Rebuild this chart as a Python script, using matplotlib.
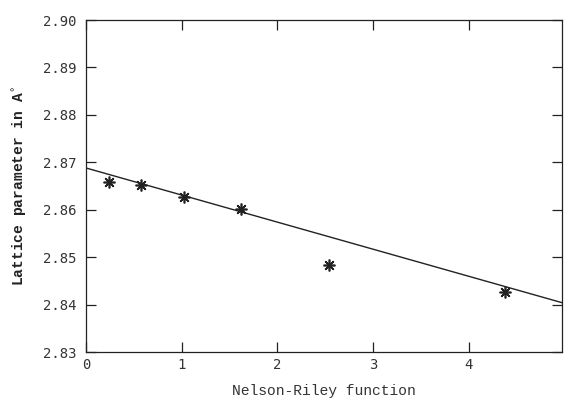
import matplotlib
matplotlib.use("Agg")
import matplotlib.pyplot as plt

# measured points
nr_func = [0.24, 0.57, 1.02, 1.625, 2.54, 4.38]
lattice = [2.8658, 2.8653, 2.8627, 2.8601, 2.8484, 2.8426]

# straight-line extrapolation drawn across the plot
fit_x = [0.0, 4.975]
fit_y = [2.8688, 2.8404]

x_ticks = [0, 1, 2, 3, 4]
y_ticks = [2.83, 2.84, 2.85, 2.86, 2.87, 2.88, 2.89, 2.90]

ink = "#222222"

fig = plt.figure(figsize=(5.64, 4), dpi=100)
ax = fig.add_axes([0.1525, 0.12, 0.844, 0.83])

ax.plot(fit_x, fit_y, color=ink, lw=1.0)
ax.plot(nr_func, lattice, ls="none", marker=(8, 2, 0), ms=8.5,
        mew=1.2, color=ink)

ax.set_xlim(0, 4.975)
ax.set_ylim(2.83, 2.90)
ax.set_xticks(x_ticks)
ax.set_yticks(y_ticks)
ax.set_xticklabels([str(t) for t in x_ticks])
ax.set_yticklabels([f"{t:.2f}" for t in y_ticks])

ax.tick_params(direction="in", length=7, width=0.9, color=ink,
               top=True, right=True, labelsize=10, labelcolor="#333333")
ax.tick_params(axis="y", pad=7)
ax.tick_params(axis="x", pad=4)
for lab in ax.get_xticklabels() + ax.get_yticklabels():
    lab.set_family("DejaVu Sans Mono")
for s in ax.spines.values():
    s.set_linewidth(0.9)
    s.set_color(ink)

ax.set_xlabel("Nelson-Riley function", family="Liberation Mono",
              fontsize=10.5, color="#333333", labelpad=9)
ax.set_ylabel(r"Lattice parameter in A$^{\circ}$", family="Liberation Mono",
              fontsize=10.5, fontweight="bold", color=ink, labelpad=10)

fig.savefig("out.png", dpi=100)
